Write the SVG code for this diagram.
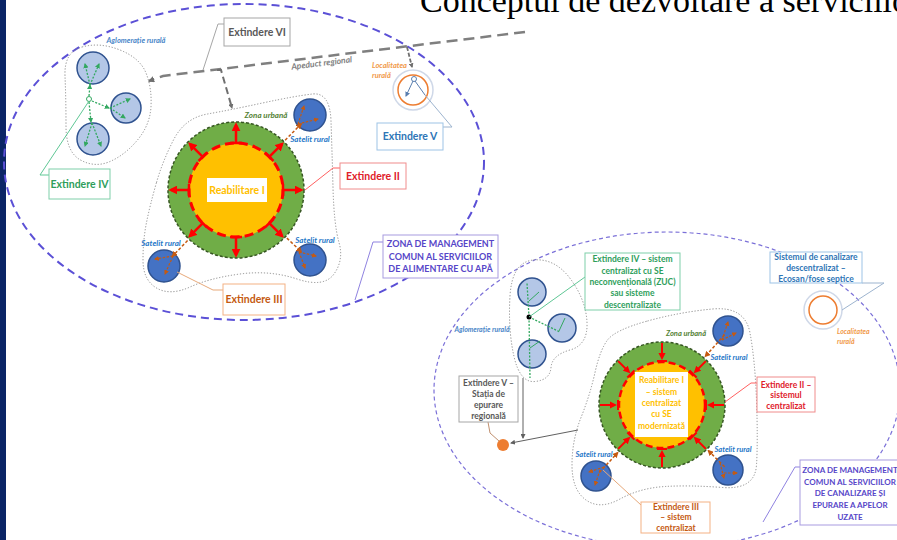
<svg xmlns="http://www.w3.org/2000/svg" width="897" height="540" viewBox="0 0 897 540">
<defs>
<style>
.t{font-family:Lato,"Open Sans","Liberation Sans",sans-serif;font-weight:bold;text-anchor:middle}
.it{font-family:Lato,"Open Sans","Liberation Sans",sans-serif;font-weight:bold;font-style:italic}
.blob{fill:none;stroke:#8a8a8a;stroke-width:1;stroke-dasharray:1.2 1.8}
.sat{fill:#4472c4;stroke:#2f528f;stroke-width:1.5}
.lc{fill:#b4c7e7;stroke:#2f528f;stroke-width:1.5}
.green{fill:#70ad47;stroke:#375623;stroke-width:1.5;stroke-dasharray:3 2}
.yel{fill:#ffc000;stroke:#ff0000}
.ra{fill:none;stroke:#ff0000;stroke-width:2.5;marker-end:url(#mr)}
.ra2{fill:none;stroke:#ff0000;stroke-width:2;marker-end:url(#mr)}
.oa{fill:none;stroke:#c55a11;stroke-width:1.5;stroke-dasharray:3 2;marker-end:url(#mo)}
.oi{fill:none;stroke:#c55a11;stroke-width:1.2;stroke-dasharray:2.5 1.5;marker-end:url(#mo)}
.ga{fill:none;stroke:#33a860;stroke-width:1.3;stroke-dasharray:2 1.5;marker-end:url(#mg)}
.gd{fill:none;stroke:#33a860;stroke-width:1.3;stroke-dasharray:2 1.5}
.gs{fill:none;stroke:#33a860;stroke-width:1}
.box{fill:#fff;stroke-width:1}
.ld{fill:none;stroke-width:1}
</style>
<marker id="mr" viewBox="0 0 10 10" refX="7" refY="5" markerWidth="3.6" markerHeight="3.6" orient="auto"><path d="M0,0 L10,5 L0,10 z" fill="#ff0000"/></marker>
<marker id="mo" viewBox="0 0 10 10" refX="8" refY="5" markerWidth="4" markerHeight="4" orient="auto"><path d="M0,0 L10,5 L0,10 z" fill="#c55a11"/></marker>
<marker id="mg" viewBox="0 0 10 10" refX="8" refY="5" markerWidth="4" markerHeight="4" orient="auto"><path d="M0,0 L10,5 L0,10 z" fill="#33a860"/></marker>
<marker id="mgr" viewBox="0 0 10 10" refX="8" refY="5" markerWidth="2.6" markerHeight="2.6" orient="auto"><path d="M0,0 L10,5 L0,10 z" fill="#6f6f6f"/></marker>
<marker id="mgs" viewBox="0 0 10 10" refX="8" refY="5" markerWidth="5" markerHeight="5" orient="auto"><path d="M0,0 L10,5 L0,10 z" fill="#606060"/></marker>
<marker id="mb" viewBox="0 0 10 10" refX="8" refY="5" markerWidth="5" markerHeight="5" orient="auto"><path d="M0,0 L10,5 L0,10 z" fill="#5a7fb0"/></marker>
</defs>

<rect x="0" y="0" width="897" height="540" fill="#ffffff"/>
<rect x="0" y="0" width="6" height="540" fill="#0b2566"/>

<text x="420" y="12" font-family="Liberation Serif, serif" font-size="34" fill="#000">Conceptul de dezvoltare a serviciilor</text>

<!-- ============ LEFT DIAGRAM ============ -->
<g id="zona-management-apa">
<ellipse cx="244" cy="162" rx="240" ry="158" fill="none" stroke="#5b50d6" stroke-width="2" stroke-dasharray="8 5"/>
</g>

<g id="aglomeratie-stanga">
<path class="blob" d="M82,47 Q100,42 120,50 Q140,58 146,73 Q152,88 151,106.5 Q150,125 137.5,140 Q125,155 110,161.5 Q95,168 80.5,160 Q66,152 66,126 Q66,100 65,76 Q64,52 82,47 Z"/>
<text class="it" x="136" y="43" font-size="7.5" fill="#4a86c8" text-anchor="middle">Aglomerație rurală</text>
<circle class="lc" cx="93" cy="68" r="16"/>
<circle class="lc" cx="126" cy="108" r="15"/>
<circle class="lc" cx="93" cy="139" r="16"/>
<path class="ga" d="M89,96 L90,85"/>
<path class="ga" d="M90,85 L85,64"/>
<path class="ga" d="M90,85 L99,64"/>
<path class="ga" d="M92,101 L109,108"/>
<path class="ga" d="M110,108 L130,99"/>
<path class="ga" d="M110,108 L125,118"/>
<path class="ga" d="M89,102 L91,122"/>
<path class="ga" d="M92,123 L85,146"/>
<path class="ga" d="M92,123 L101,146"/>
<circle cx="89" cy="99" r="2.5" fill="#fff" stroke="#33a860" stroke-width="1"/>
</g>

<g id="zona-urbana-stanga">
<path class="blob" d="M156.5,182.5 Q163,160 174,139 Q185,118 207.5,114 Q230,110 262.5,103 Q295,96 312.5,94 Q330,92 331,121 Q332,150 333,187.5 Q334,225 339,242.5 Q344,260 334,274 Q324,288 297,279 Q270,270 240,274 Q210,278 190,287 Q170,296 156.5,288 Q143,280 143,260 Q143,240 146.5,222.5 Q150,205 156.5,182.5 Z"/>
<text class="it" x="266" y="118" font-size="8" fill="#548235" text-anchor="middle">Zona urbană</text>
<circle class="green" cx="236" cy="190" r="68"/>
<circle class="yel" cx="236" cy="190" r="47" stroke-width="3" stroke-dasharray="9 5"/>
<g transform="translate(236,190)">
<path class="ra" transform="rotate(0)" d="M47,-6V6M47,0H65"/>
<path class="ra" transform="rotate(-45)" d="M47,-6V6M47,0H65"/>
<path class="ra" transform="rotate(-90)" d="M47,-6V6M47,0H65"/>
<path class="ra" transform="rotate(-135)" d="M47,-6V6M47,0H65"/>
<path class="ra" transform="rotate(180)" d="M47,-6V6M47,0H65"/>
<path class="ra" transform="rotate(135)" d="M47,-6V6M47,0H65"/>
<path class="ra" transform="rotate(90)" d="M47,-6V6M47,0H65"/>
<path class="ra" transform="rotate(45)" d="M47,-6V6M47,0H65"/>
</g>
<rect x="207" y="178" width="60" height="24" fill="#fff"/>
<text class="t" x="237" y="194" font-size="10.5" fill="#ffc000">Reabilitare I</text>
</g>

<g id="satelit-stanga-1">
<circle class="sat" cx="310" cy="115" r="16"/>
<path class="oi" d="M298,124 L304,106"/>
<path class="oi" d="M298,124 L318,119"/>
<text class="it" x="310" y="142" font-size="8" fill="#1f78c8" text-anchor="middle">Satelit rural</text>
</g>
<g id="satelit-stanga-2">
<circle class="sat" cx="310" cy="260" r="16"/>
<path class="oi" d="M299,252 L316,256"/>
<path class="oi" d="M299,252 L305,268"/>
<text class="it" x="315" y="243" font-size="8" fill="#1f78c8" text-anchor="middle">Satelit rural</text>
</g>
<g id="satelit-stanga-3">
<circle class="sat" cx="164" cy="266" r="16"/>
<path class="oi" d="M173,256 L155,259"/>
<path class="oi" d="M173,256 L165,274"/>
<text class="it" x="161" y="246" font-size="8" fill="#1f78c8" text-anchor="middle">Satelit rural</text>
</g>

<g id="localitate-stanga">
<circle cx="413" cy="90" r="20" fill="#fff" stroke="#cfd8e8" stroke-width="1.5"/>
<circle cx="413" cy="90" r="15" fill="none" stroke="#ed7d31" stroke-width="1.5"/>
<circle cx="414" cy="79" r="2.5" fill="#fff" stroke="#5a7fb0" stroke-width="1"/>
<path d="M413,81 L406,96" stroke="#5a7fb0" stroke-width="1" fill="none" marker-end="url(#mb)"/>
<path d="M415,81 L425,95" stroke="#5a7fb0" stroke-width="1" fill="none"/>
<text class="it" font-size="7.5" fill="#f19a4a"><tspan x="372" y="68">Localitatea</tspan><tspan x="372" y="78">rurală</tspan></text>
</g>

<g id="connectors-stanga">
<path d="M525,32 L163,76 L149,81" fill="none" stroke="#7f7f7f" stroke-width="2.5" stroke-dasharray="11 6" marker-end="url(#mgr)"/>
<path d="M217,70 L221,70 L232,108" fill="none" stroke="#6f6f6f" stroke-width="2" stroke-dasharray="7 4" marker-end="url(#mgr)"/>
<path d="M407,47 L412,67" fill="none" stroke="#6f6f6f" stroke-width="1.8" stroke-dasharray="4 2" marker-end="url(#mgr)"/>
<text class="it" x="322" y="66" font-size="8.5" fill="#7f7f7f" text-anchor="middle" transform="rotate(-7 322 66)">Apeduct regional</text>
<g transform="translate(236,190)">
<path class="oa" transform="rotate(-45.4)" d="M70,0H93"/>
<path class="oa" transform="rotate(43.4)" d="M70,0H90"/>
<path class="oa" transform="rotate(133.8)" d="M70,0H92"/>
</g>
<path class="ld" stroke="#a6a6a6" d="M224,24 L218,24 L203,70"/>
<path class="ld" stroke="#5fc795" d="M89,101 L40,175 L49,175"/>
<path class="ld" stroke="#ff6060" d="M340,168 L333,168 L305,190"/>
<path class="ld" stroke="#e7a97a" d="M177,272 L213,290 L223,290"/>
<path class="ld" stroke="#9db4cf" d="M425,95 L452,127 L443,127"/>
<path class="ld" stroke="#8f82e0" d="M383,242 L373,242 L355,300"/>
</g>

<g id="box-extindere-vi">
<rect class="box" x="224" y="18" width="66" height="28" stroke="#a6a6a6"/>
<text class="t" x="257" y="36" font-size="10.5" fill="#595959">Extindere VI</text>
</g>
<g id="box-extindere-iv">
<rect class="box" x="49" y="169" width="61" height="30" stroke="#7fcfa9"/>
<text class="t" x="79.5" y="188" font-size="10.5" fill="#2e9e5b">Extindere IV</text>
</g>
<g id="box-extindere-ii">
<rect class="box" x="340" y="163" width="66" height="26" stroke="#f08c8c"/>
<text class="t" x="373" y="180" font-size="10.5" fill="#e0202a">Extindere II</text>
</g>
<g id="box-extindere-iii">
<rect class="box" x="223" y="284" width="62" height="31" stroke="#f4b183"/>
<text class="t" x="254" y="303" font-size="10.5" fill="#c55a11">Extindere III</text>
</g>
<g id="box-extindere-v">
<rect class="box" x="377" y="123" width="66" height="27" stroke="#9dc3e6"/>
<text class="t" x="410" y="140" font-size="10.5" fill="#2e75b6">Extindere V</text>
</g>
<g id="box-zona-apa">
<rect class="box" x="383" y="235" width="115" height="43" stroke="#a89be0"/>
<text class="t" font-size="9" fill="#5646c8"><tspan x="440.5" y="247">ZONA DE MANAGEMENT</tspan><tspan x="440.5" y="260">COMUN AL SERVICIILOR</tspan><tspan x="440.5" y="272">DE ALIMENTARE CU APĂ</tspan></text>
</g>

<!-- ============ RIGHT DIAGRAM ============ -->
<g id="zona-management-canalizare">
<ellipse cx="667" cy="390" rx="233" ry="158" fill="none" stroke="#7b70d8" stroke-width="1.2" stroke-dasharray="4 3"/>
</g>

<g id="aglomeratie-dreapta">
<path class="blob" d="M533.5,260 Q555,258 570.5,279 Q586,300 587,322.5 Q588,345 570,350 Q552,355 551,367.5 Q550,380 535,381.5 Q520,383 514,356.5 Q508,330 510,296 Q512,262 533.5,260 Z"/>
<text class="it" x="482" y="332" font-size="7" fill="#4a86c8" text-anchor="middle">Aglomerație rurală</text>
<circle class="lc" cx="532" cy="292" r="14"/>
<circle class="lc" cx="562" cy="328" r="14"/>
<circle class="lc" cx="532" cy="354" r="14"/>
<path class="gd" d="M529,317 L527,283"/>
<path class="gs" d="M529,301 L539,292"/>
<path class="gd" d="M529,317 L560,332"/>
<path class="gs" d="M559,331 L565,318"/>
<path class="gd" d="M529,317 L530,378"/>
<path class="gs" d="M530,348 L540,341"/>
<circle cx="529" cy="317" r="2.5" fill="#000"/>
</g>

<g id="zona-urbana-dreapta">
<path class="blob" d="M647.5,321 Q680,312 712.5,309 Q745,306 750,333 Q755,360 756.5,400 Q758,440 756.5,465 Q755,490 722.5,487.5 Q690,485 665,486.5 Q640,488 620,499 Q600,510 586,500 Q572,490 572,465 Q572,440 581,417.5 Q590,395 595,372.5 Q600,350 607.5,340 Q615,330 647.5,321 Z"/>
<text class="it" x="686" y="336" font-size="7.5" fill="#548235" text-anchor="middle">Zona urbană</text>
<circle class="green" cx="662" cy="405" r="63"/>
<circle class="yel" cx="662" cy="405" r="43" stroke-width="2.5" stroke-dasharray="7 4"/>
<g transform="translate(662,405)">
<path class="ra2" transform="rotate(0)" d="M44,-5V5M62,0H47"/>
<path class="ra2" transform="rotate(-45)" d="M44,-5V5M62,0H47"/>
<path class="ra2" transform="rotate(-90)" d="M44,-5V5M62,0H47"/>
<path class="ra2" transform="rotate(-135)" d="M44,-5V5M62,0H47"/>
<path class="ra2" transform="rotate(180)" d="M44,-5V5M62,0H47"/>
<path class="ra2" transform="rotate(135)" d="M44,-5V5M62,0H47"/>
<path class="ra2" transform="rotate(90)" d="M44,-5V5M62,0H47"/>
<path class="ra2" transform="rotate(45)" d="M44,-5V5M62,0H47"/>
</g>
<rect x="635" y="372" width="53" height="65" fill="#fff"/>
<text class="t" font-size="8.5" fill="#ffc000"><tspan x="661.5" y="383">Reabilitare I</tspan><tspan x="661.5" y="395">– sistem</tspan><tspan x="661.5" y="406">centralizat</tspan><tspan x="661.5" y="417">cu SE</tspan><tspan x="661.5" y="429">modernizată</tspan></text>
</g>

<g id="satelit-dreapta-1">
<circle class="sat" cx="728" cy="331" r="15"/>
<path class="oi" d="M722,340 L728,322"/>
<path class="oi" d="M722,340 L736,333"/>
<text class="it" x="729" y="360" font-size="7.5" fill="#1f78c8" text-anchor="middle">Satelit rural</text>
</g>
<g id="satelit-dreapta-2">
<circle class="sat" cx="728" cy="470" r="15"/>
<path class="oi" d="M720,463 L724,478"/>
<path class="oi" d="M724,473 L737,473"/>
<text class="it" x="733" y="452" font-size="7.5" fill="#1f78c8" text-anchor="middle">Satelit rural</text>
</g>
<g id="satelit-dreapta-3">
<circle class="sat" cx="596" cy="476" r="15"/>
<path class="oi" d="M604,467 L589,472"/>
<path class="oi" d="M600,470 L595,485"/>
<text class="it" x="594" y="457" font-size="7.5" fill="#1f78c8" text-anchor="middle">Satelit rural</text>
</g>

<g id="localitate-dreapta">
<circle cx="823" cy="310" r="19" fill="#fff" stroke="#cfd8e8" stroke-width="1.5"/>
<circle cx="823" cy="310" r="14" fill="none" stroke="#ed7d31" stroke-width="1.5"/>
<text class="it" font-size="7" fill="#f19a4a"><tspan x="837" y="334">Localitatea</tspan><tspan x="837" y="344">rurală</tspan></text>
</g>

<g id="statie-epurare">
<circle cx="503" cy="445" r="6" fill="#ed7d31"/>
</g>

<g id="connectors-dreapta">
<g transform="translate(662,405)">
<path class="oa" transform="rotate(-48.3)" d="M94,0H65"/>
<path class="oa" transform="rotate(44.6)" d="M88,0H65"/>
<path class="oa" transform="rotate(132.9)" d="M92,0H65"/>
</g>
<path d="M578,430 L511,443" fill="none" stroke="#606060" stroke-width="1" marker-end="url(#mgs)"/>
<path d="M523,378 L523,438" fill="none" stroke="#606060" stroke-width="1" marker-end="url(#mgs)"/>
<path class="ld" stroke="#c09070" d="M488,422 L490,433 L499,441"/>
<path class="ld" stroke="#5fc795" d="M529,317 L585,277"/>
<path class="ld" stroke="#ff6060" d="M757,383 L751,383 L725,402"/>
<path class="ld" stroke="#e7a97a" d="M603,470 L641,505"/>
<path class="ld" stroke="#9db4cf" d="M862,283 L884,283 L842,310"/>
<path class="ld" stroke="#8f82e0" d="M800,467 L795,467 L763,522"/>
</g>

<g id="box-extindere-iv-dreapta">
<rect class="box" x="585" y="253" width="95" height="57" stroke="#7fcfa9"/>
<text class="t" font-size="8.5" fill="#2e9e5b"><tspan x="632.5" y="262">Extindere IV – sistem</tspan><tspan x="632.5" y="274">centralizat cu SE</tspan><tspan x="632.5" y="285">neconvențională (ZUC)</tspan><tspan x="632.5" y="296">sau sisteme</tspan><tspan x="632.5" y="308">descentralizate</tspan></text>
</g>
<g id="box-sistem-descentralizat">
<rect class="box" x="770" y="252" width="92" height="31" stroke="#9dc3e6"/>
<text class="t" font-size="8.5" fill="#2e75b6"><tspan x="816" y="260">Sistemul de canalizare</tspan><tspan x="816" y="271">descentralizat –</tspan><tspan x="816" y="282">Ecosan/fose septice</tspan></text>
</g>
<g id="box-extindere-v-dreapta">
<rect class="box" x="459" y="376" width="59" height="46" stroke="#a6a6a6"/>
<text class="t" font-size="8.5" fill="#595959"><tspan x="488.5" y="386">Extindere V –</tspan><tspan x="488.5" y="397">Stația de</tspan><tspan x="488.5" y="408">epurare</tspan><tspan x="488.5" y="419">regională</tspan></text>
</g>
<g id="box-extindere-ii-dreapta">
<rect class="box" x="757" y="377" width="58" height="35" stroke="#f08c8c"/>
<text class="t" font-size="8.5" fill="#e0202a"><tspan x="786" y="388">Extindere II –</tspan><tspan x="786" y="398">sistemul</tspan><tspan x="786" y="409">centralizat</tspan></text>
</g>
<g id="box-extindere-iii-dreapta">
<rect class="box" x="641" y="502" width="69" height="31" stroke="#f4b183"/>
<text class="t" font-size="8.5" fill="#c55a11"><tspan x="676" y="510">Extindere III</tspan><tspan x="676" y="520">– sistem</tspan><tspan x="676" y="531">centralizat</tspan></text>
</g>
<g id="box-zona-canalizare">
<rect class="box" x="800" y="460" width="100" height="65" stroke="#a89be0"/>
<text class="t" font-size="8" fill="#5646c8"><tspan x="850" y="473">ZONA DE MANAGEMENT</tspan><tspan x="850" y="485">COMUN AL SERVICIILOR</tspan><tspan x="850" y="496">DE CANALIZARE ȘI</tspan><tspan x="850" y="508">EPURARE A APELOR</tspan><tspan x="850" y="520">UZATE</tspan></text>
</g>
</svg>
